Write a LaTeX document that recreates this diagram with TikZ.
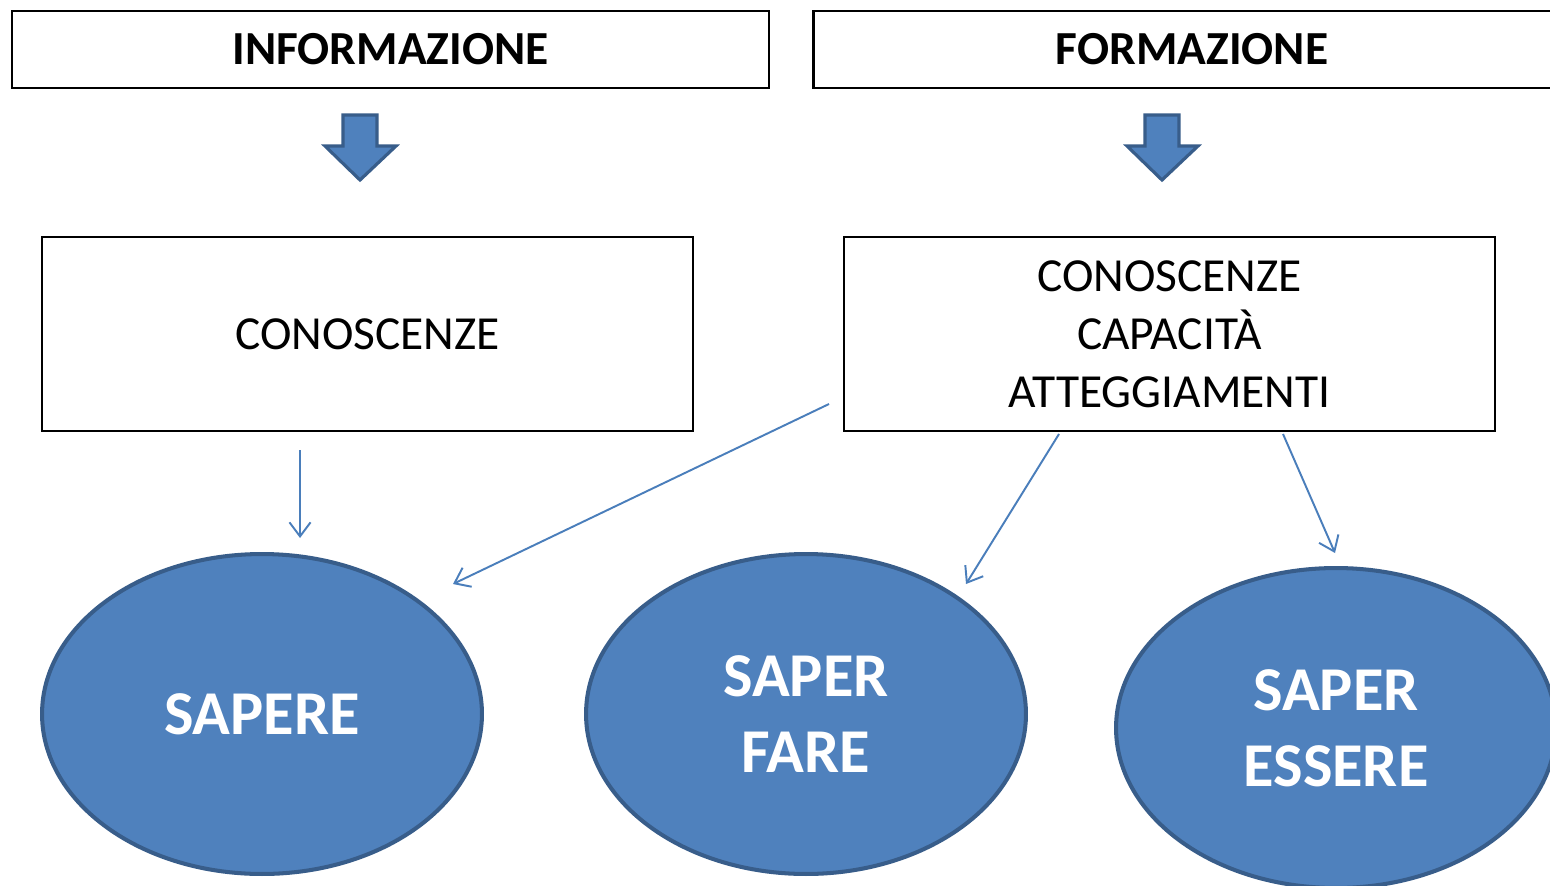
\documentclass[tikz,border=0pt]{standalone}
\usepackage{fontspec}
\setmainfont{Carlito}
\usetikzlibrary{arrows.meta,calc,shapes.geometric}
\definecolor{accfill}{HTML}{4F81BD}
\definecolor{accline}{HTML}{385D8A}
\definecolor{connc}{HTML}{4A7EBB}
\begin{document}
\begin{tikzpicture}[x=0.02cm,y=-0.02cm,
  hbox/.style={draw=black,line width=1.4pt,rectangle,minimum width=15.14cm,minimum height=1.54cm,inner sep=0pt,font=\fontsize{27}{33}\selectfont\bfseries},
  cbox/.style={draw=black,line width=1.4pt,rectangle,minimum width=13.02cm,minimum height=3.88cm,inner sep=0pt,align=center,font=\fontsize{27}{33}\selectfont},
  oval/.style={ellipse,draw=accline,fill=accfill,line width=2.3pt,minimum width=8.8cm,minimum height=6.4cm,inner sep=0pt,align=center,text=white,font=\fontsize{35.5}{43}\selectfont\bfseries},
  conn/.style={draw=connc,line width=1.1pt,-{Straight Barb[length=8pt,width=12pt]}},
  blockarrow/.style={draw=accline,fill=accfill,line width=1.8pt,line join=miter}
]
\path[use as bounding box,clip] (0,0) rectangle (1550,885);
\fill[white] (0,0) rectangle (1550,885);

\node[hbox] (info) at (390.5,49.5) {INFORMAZIONE};
\node[hbox] (form) at (1192,49.5) {FORMAZIONE};

\draw[blockarrow] (343,115) -- (377,115) -- (377,146) -- (396,146) -- (360,180) -- (325,146) -- (343,146) -- cycle;
\draw[blockarrow] (1145,115) -- (1179,115) -- (1179,146) -- (1198,146) -- (1162,180) -- (1127,146) -- (1145,146) -- cycle;

\node[cbox] (con1) at (367.5,334) {CONOSCENZE};
\node[cbox] (con2) at (1169.5,334) {CONOSCENZE\\CAPACITÀ\\ATTEGGIAMENTI};

\node[oval] (sapere) at (262,714) {SAPERE};
\node[oval] (fare) at (806,714) {SAPER\\FARE};
\node[oval] (essere) at (1336,728) {SAPER\\ESSERE};

\coordinate (a1s) at (300,450);
\coordinate (a1e) at (300,538);
\coordinate (a2s) at (829,404);
\coordinate (a2e) at (453,584);
\coordinate (a3s) at (1059,434);
\coordinate (a3e) at (966,584);
\coordinate (a4s) at (1283,434);
\coordinate (a4e) at (1335,553);

\draw[conn] (a1s) -- (a1e);
\draw[conn] (a2s) -- (a2e);
\draw[conn] (a3s) -- (a3e);
\draw[conn] (a4s) -- (a4e);
\end{tikzpicture}
\end{document}
